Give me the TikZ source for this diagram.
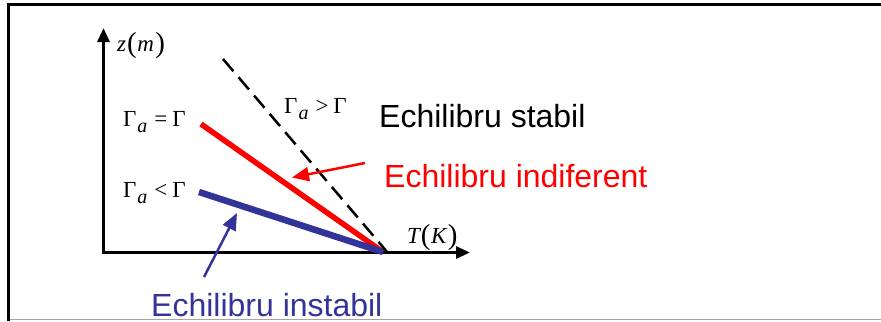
\documentclass[tikz,border=0pt]{standalone}
\usepackage{fontspec}
\setmainfont{Liberation Serif}
\newfontfamily\sansf{Liberation Sans}
\usetikzlibrary{arrows.meta}
\definecolor{myred}{HTML}{FF0000}
\definecolor{myblue}{HTML}{333399}
\definecolor{framegray}{HTML}{A6A6A6}
\newcommand{\mylab}[1]{Γ\hspace{1bp}\raisebox{-6bp}{\fontsize{20bp}{22bp}\selectfont\itshape a}\hspace{7bp}#1\hspace{5bp}Γ}
\newcommand{\paren}[2]{\itshape #1\upshape\hspace{1bp}{\fontsize{29bp}{29bp}\selectfont\raisebox{-1.5bp}{(}}\hspace{0.5bp}\itshape #2\upshape\hspace{1.5bp}{\fontsize{29bp}{29bp}\selectfont\raisebox{-1.5bp}{)}}}
\begin{document}
\begin{tikzpicture}[x=1bp,y=-1bp,
  axis/.style={line width=3bp, {Triangle[length=14bp,width=12bp]}-{Triangle[length=14bp,width=12bp]}},
  ptr/.style={line width=2.5bp, -{Triangle[length=17bp,width=14bp]}},
  mathlab/.style={anchor=base west, inner sep=0pt, font=\fontsize{23bp}{26bp}\selectfont},
  biglab/.style={anchor=base west, inner sep=0pt, font=\sansf\fontsize{32bp}{36bp}\selectfont}]
\useasboundingbox (0,0) rectangle (881,321);
% frame
\draw[line width=3bp] (8.5,321) -- (8.5,4.5) -- (881,4.5);
\draw[framegray, line width=1.5bp] (10,319.5) -- (881,319.5);
% axes
\coordinate (O) at (103.5,252.5);
\coordinate (ytip) at (103.5,28);
\coordinate (xtip) at (470,252.5);
\draw[axis] (ytip) -- (O) -- (xtip);
\node[mathlab] (zlab) at (117,51) {\paren{z}{m}};
\node[mathlab] (tlab) at (407,243) {\paren{T}{K}};
% lines
\coordinate (r1) at (201,124);
\coordinate (r2) at (383,252);
\coordinate (b1) at (199,192);
\coordinate (b2) at (383,252);
\coordinate (d1) at (223,59);
\coordinate (d2) at (388,253);
\draw[myred, line width=5.5bp] (r1) -- (r2);
\draw[myblue, line width=6.5bp] (b1) -- (b2);
\draw[line width=2.5bp, dash pattern=on 16bp off 8bp] (d1) -- (d2);
% math labels
\node[mathlab] (geq) at (123,126.5) {\mylab{=}};
\node[mathlab] (glt) at (123,197) {\mylab{<}};
\node[mathlab] (ggt) at (284,113.5) {\mylab{>}};
% text labels
\node[biglab] (stab) at (379,127) {Echilibru stabil};
\node[biglab, text=myred] (indif) at (384,187) {Echilibru indiferent};
\node[biglab, text=myblue] (instab) at (151,316) {Echilibru instabil};
% pointers
\coordinate (ra) at (365,163);
\coordinate (rb) at (292,177.5);
\coordinate (ba) at (204,277);
\coordinate (bb) at (237,213);
\draw[ptr, myred] (ra) -- (rb);
\draw[ptr, myblue] (ba) -- (bb);
\end{tikzpicture}
\end{document}
